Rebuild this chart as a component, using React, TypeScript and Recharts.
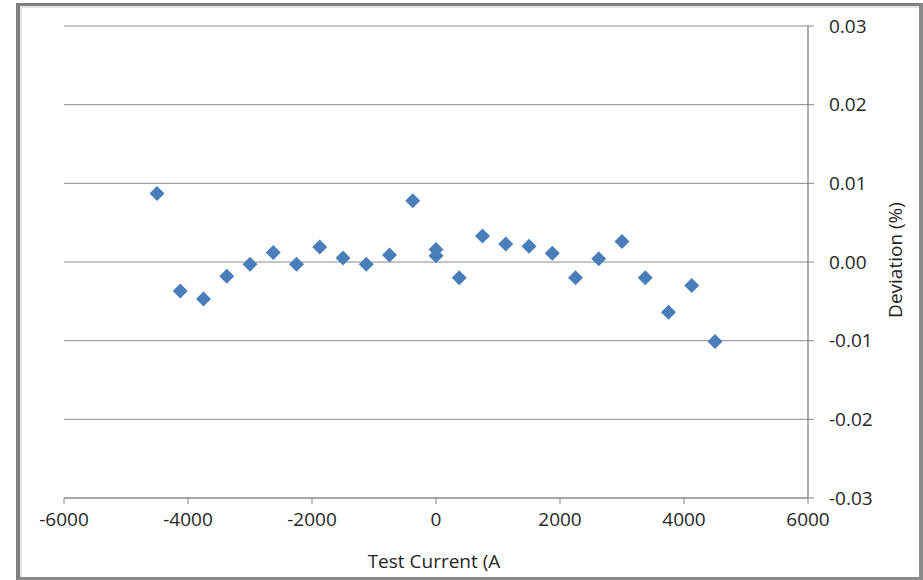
import React from "react";
import { ScatterChart, Scatter, XAxis, YAxis, CartesianGrid } from "recharts";

const testCurrent = [
  -4500, -4125, -3750, -3375, -3000, -2625, -2250, -1875, -1500, -1125, -750, -375,
  0, 0, 375, 750, 1125, 1500, 1875, 2250, 2625, 3000, 3375, 3750, 4125, 4500,
];
const deviation = [
  0.0087, -0.0037, -0.0047, -0.0018, -0.0003, 0.0012, -0.0003, 0.0019, 0.0005, -0.0003, 0.0009, 0.0078,
  0.0016, 0.0008, -0.002, 0.0033, 0.0023, 0.002, 0.0011, -0.002, 0.0004, 0.0026, -0.002, -0.0064, -0.003, -0.0101,
];
const xTicks = [-6000, -4000, -2000, 0, 2000, 4000, 6000];
const yTicks = [-0.03, -0.02, -0.01, 0, 0.01, 0.02, 0.03];

const data = testCurrent.map((c, i) => ({ current: c, deviation: deviation[i] }));

const FONT = "'Open Sans', sans-serif";
const TEXT = "#262626";
const GRID = "#8a8a8a";
const AXIS = "#5f5f5f";
const MARK = "#4A7EBB";

const Diamond = (props: any) => {
  const { cx, cy } = props;
  if (cx == null || cy == null) return null;
  const r = 7.5;
  return (
    <path
      d={`M${cx},${cy - r}L${cx + r},${cy}L${cx},${cy + r}L${cx - r},${cy}Z`}
      fill={MARK}
    />
  );
};

const XLabel = (props: any) => {
  const vb = props.viewBox || {};
  const x = vb.x + vb.width / 2 - 2;
  const y = vb.y + 70;
  return (
    <text x={x} y={y} textAnchor="middle" fontFamily={FONT} fontSize={19} fill={TEXT}>
      Test Current (A
    </text>
  );
};

const YLabel = (props: any) => {
  const vb = props.viewBox || {};
  const x = vb.x + 94;
  const y = vb.y + vb.height / 2 - 2;
  return (
    <text
      x={x}
      y={y}
      textAnchor="middle"
      fontFamily={FONT}
      fontSize={19}
      fill={TEXT}
      transform={`rotate(-90, ${x}, ${y})`}
    >
      Deviation (%)
    </text>
  );
};

export default function App() {
  return (
    <div style={{ position: "absolute", left: 0, top: 0, width: 923, height: 580, background: "#fff" }}>
      <div
        style={{
          position: "absolute",
          left: 16,
          top: 3,
          width: 907,
          height: 577,
          boxSizing: "border-box",
          borderLeft: "4px solid #808080",
          borderTop: "3px solid #808080",
          borderRight: "4px solid #8a8a8a",
          borderBottom: "3px solid #8a8a8a",
          boxShadow: "inset 2px 2px 0 #e4e4e4",
        }}
      />
      <div style={{ position: "absolute", left: 0, top: 0 }}>
        <ScatterChart
          width={923}
          height={580}
          margin={{ top: 26, right: 0, bottom: 0, left: 64 }}
        >
          <CartesianGrid horizontal={true} vertical={false} stroke={GRID} strokeDasharray="" />
          <XAxis
            type="number"
            dataKey="current"
            domain={[-6000, 6000]}
            ticks={xTicks}
            interval={0}
            height={82}
            stroke={GRID}
            tickSize={6}
            tickMargin={9}
            tick={{ fontFamily: FONT, fontSize: 19, fill: TEXT }}
            label={<XLabel />}
            allowDataOverflow
          />
          <YAxis
            type="number"
            dataKey="deviation"
            orientation="right"
            domain={[-0.03, 0.03]}
            ticks={yTicks}
            interval={0}
            width={115}
            stroke={AXIS}
            tickLine={{ stroke: GRID }}
            tickSize={6}
            tickMargin={15}
            tickFormatter={(v: number) => v.toFixed(2)}
            tick={{ fontFamily: FONT, fontSize: 19, fill: TEXT, textAnchor: "start" }}
            label={<YLabel />}
            allowDataOverflow
          />
          <Scatter data={data} shape={<Diamond />} isAnimationActive={false} />
        </ScatterChart>
      </div>
    </div>
  );
}
